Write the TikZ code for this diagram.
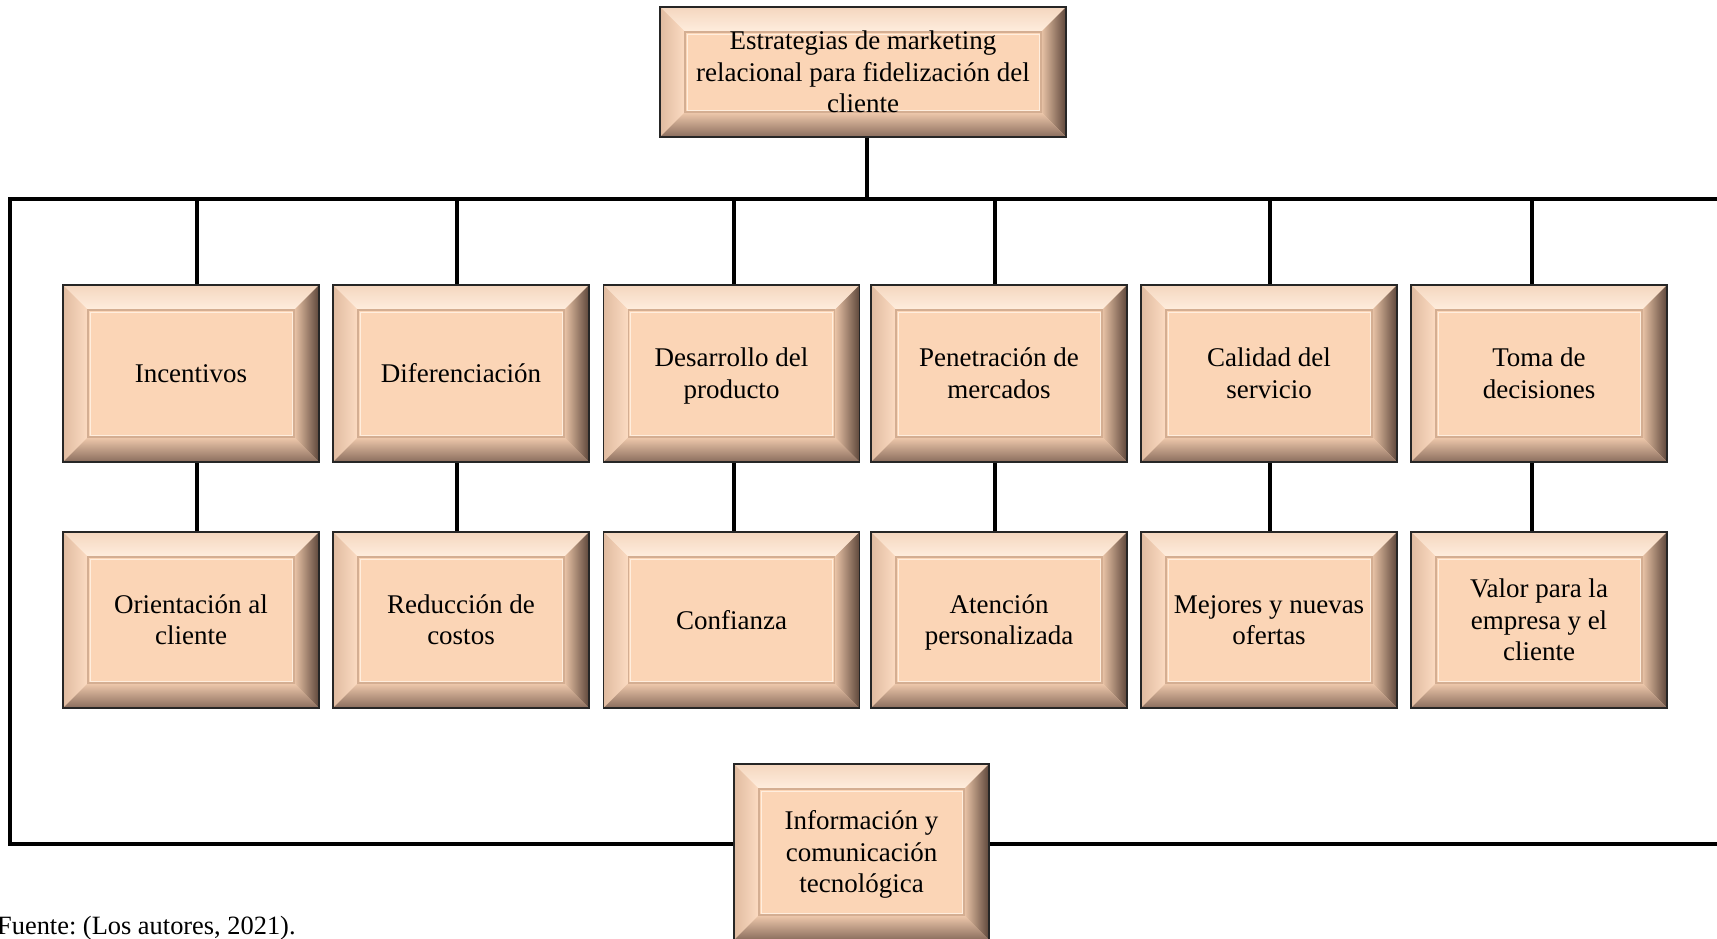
\documentclass[tikz,border=0pt]{standalone}
\usepackage{fontspec}
\setmainfont{Liberation Serif}
\usetikzlibrary{calc}
\frenchspacing

\definecolor{peach}{HTML}{FBD5B6}
\definecolor{peachhi}{HTML}{FFEEDE}
\definecolor{peachtop}{HTML}{F4D6BF}
\definecolor{peachleft}{HTML}{E0BBA0}
\definecolor{peachin}{HTML}{FCDCC3}
\definecolor{bevright}{HTML}{5E473B}
\definecolor{bevrightin}{HTML}{EBC5A8}
\definecolor{bevbot}{HTML}{8A6D5D}
\definecolor{bevbotin}{HTML}{F0CAAD}
\definecolor{panelline}{HTML}{D4AE92}

% line strut with the full ascent and descent of the serif face
\newcommand\ls{\rule[-0.216em]{0pt}{1.107em}}

\tikzset{
  bevelbox/.style={
    draw=black!85, line width=1.6pt, fill=peach, inner sep=0pt,
    minimum width=256pt, minimum height=177pt, align=center,
    font=\fontsize{27}{31.5}\selectfont,
    path picture={
      \coordinate (bnw) at (path picture bounding box.north west);
      \coordinate (bne) at (path picture bounding box.north east);
      \coordinate (bsw) at (path picture bounding box.south west);
      \coordinate (bse) at (path picture bounding box.south east);
      % top bevel
      \shade[top color=peachtop, bottom color=peachhi]
        (bnw) -- (bne) -- ($(bne)+(-25pt,-25pt)$) -- ($(bnw)+(25pt,-25pt)$) -- cycle;
      % left bevel
      \shade[left color=peachleft, right color=peachin]
        (bnw) -- ($(bnw)+(25pt,-25pt)$) -- ($(bsw)+(25pt,25pt)$) -- (bsw) -- cycle;
      % right bevel
      \shade[left color=bevrightin, right color=bevright]
        (bne) -- (bse) -- ($(bse)+(-25pt,25pt)$) -- ($(bne)+(-25pt,-25pt)$) -- cycle;
      % bottom bevel
      \shade[top color=bevbotin, bottom color=bevbot]
        (bsw) -- (bse) -- ($(bse)+(-25pt,25pt)$) -- ($(bsw)+(25pt,25pt)$) -- cycle;
      % raised inner panel
      \draw[panelline, line width=1.2pt]
        ($(bnw)+(25pt,-25pt)$) rectangle ($(bse)+(-25pt,25pt)$);
      \draw[peachhi, line width=0.8pt]
        ($(bnw)+(27pt,-27pt)$) rectangle ($(bse)+(-27pt,27pt)$);
    }
  },
  conn/.style={draw=black, line width=3.5pt}
}

\begin{document}
\begin{tikzpicture}[x=1pt,y=-1pt]
\useasboundingbox (0,0) rectangle (1717,938);

% root strategy box
\node[bevelbox, minimum width=406pt, minimum height=130pt] (root) at (863,72)
  {\ls Estrategias de marketing\\relacional para fidelización del\\cliente\ls};

% first row of strategies
\node[bevelbox] (a1) at (191,373.5) {\ls Incentivos\ls};
\node[bevelbox] (a2) at (461,373.5) {\ls Diferenciación\ls};
\node[bevelbox] (a3) at (731.5,373.5) {\ls Desarrollo del\\producto\ls};
\node[bevelbox] (a4) at (999,373.5) {\ls Penetración de\\mercados\ls};
\node[bevelbox] (a5) at (1269,373.5) {\ls Calidad del\\servicio\ls};
\node[bevelbox] (a6) at (1539,373.5) {\ls Toma de\\decisiones\ls};

% second row of strategies
\node[bevelbox, minimum height=176pt] (b1) at (191,620) {\ls Orientación al\\cliente\ls};
\node[bevelbox, minimum height=176pt] (b2) at (461,620) {\ls Reducción de\\costos\ls};
\node[bevelbox, minimum height=176pt] (b3) at (731.5,620) {\ls Confianza\ls};
\node[bevelbox, minimum height=176pt] (b4) at (999,620) {\ls Atención\\personalizada\ls};
\node[bevelbox, minimum height=176pt] (b5) at (1269,620) {\ls Mejores y nuevas\\ofertas\ls};
\node[bevelbox, minimum height=176pt] (b6) at (1539,620) {\ls Valor para la\\empresa y el\\cliente\ls};

% technology box on the lower frame line
\node[bevelbox, minimum width=255pt, minimum height=176pt] (info) at (861.5,852)
  {\ls Información y\\comunicación\\tecnológica\ls};

% frame coordinates
\coordinate (hub) at (867,199);
\coordinate (tl) at (10,199);
\coordinate (tr) at (1725,199);
\coordinate (bl) at (10,844);
\coordinate (br) at (1725,844);
\coordinate (h1) at (197,199);
\coordinate (h2) at (457,199);
\coordinate (h3) at (734,199);
\coordinate (h4) at (995,199);
\coordinate (h5) at (1270,199);
\coordinate (h6) at (1532,199);

% frame
\draw[conn] (hub |- root.south) -- (hub);
\draw[conn] (tr) -- (tl) -- (bl) -- (info.west |- bl);
\draw[conn] (info.east |- br) -- (br);

% branches
\foreach \i in {1,...,6}{
  \draw[conn] (h\i) -- (h\i |- a\i.north);
  \draw[conn] (h\i |- a\i.south) -- (h\i |- b\i.north);
}

% source line
\node[anchor=base west, inner sep=0pt, font=\fontsize{26.4}{31}\selectfont] (src) at (-3,934)
  {Fuente: (Los autores, 2021).};
\end{tikzpicture}
\end{document}
